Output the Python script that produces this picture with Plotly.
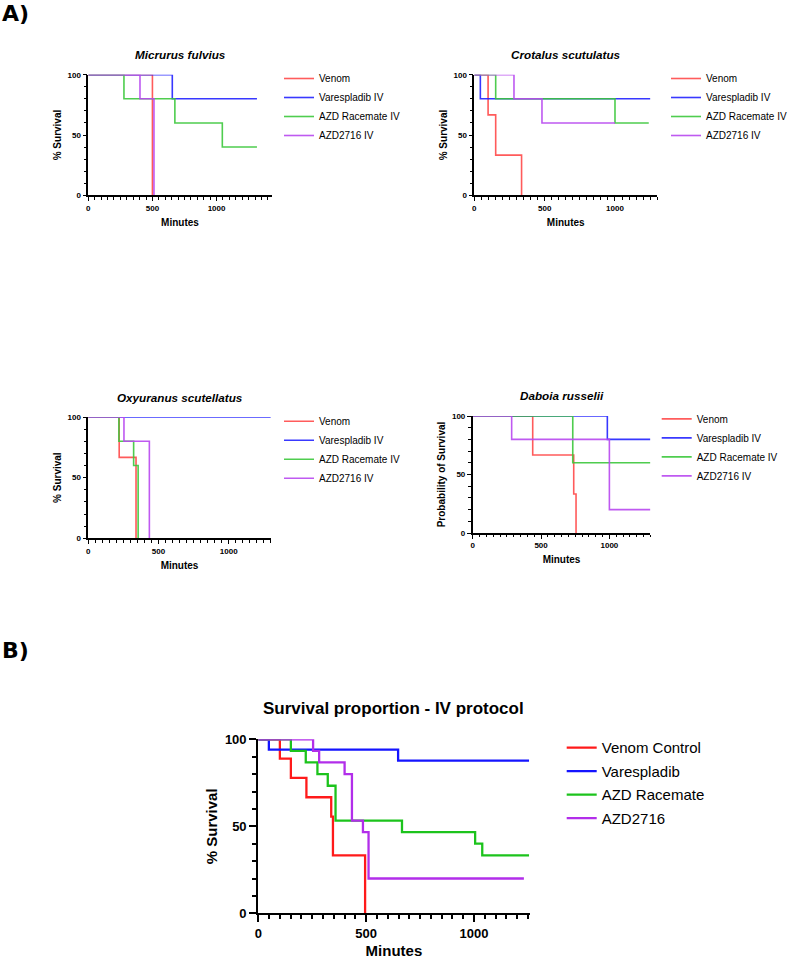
import plotly.graph_objects as go

# ---------------- data ----------------
groups_A = ["Venom", "Varespladib IV", "AZD Racemate IV", "AZD2716 IV"]
groups_B = ["Venom Control", "Varespladib", "AZD Racemate", "AZD2716"]

# Micrurus fulvius
mf_venom_t = [0, 500];                 mf_venom_s = [100, 0]
mf_vares_t = [0, 655, 1315];           mf_vares_s = [100, 80, 80]
mf_race_t = [0, 278, 675, 1045, 1315]; mf_race_s = [100, 80, 60, 40, 40]
mf_azd_t = [0, 403, 512];              mf_azd_s = [100, 80, 0]

# Crotalus scutulatus
cs_venom_t = [0, 98, 152, 336];        cs_venom_s = [100, 66.7, 33.3, 0]
cs_vares_t = [0, 43, 1250];            cs_vares_s = [100, 80, 80]
cs_race_t = [0, 152, 1000, 1240];      cs_race_s = [100, 80, 60, 60]
cs_azd_t = [0, 282, 481, 1000];        cs_azd_s = [100, 80, 60, 60]

# Oxyuranus scutellatus
os_venom_t = [0, 220, 340];            os_venom_s = [100, 66.7, 0]
os_vares_t = [0, 1300];                os_vares_s = [100, 100]
os_race_t = [0, 218, 323, 355];        os_race_s = [100, 80, 60, 0]
os_azd_t = [0, 254, 435];              os_azd_s = [100, 80, 0]

# Daboia russelii
dr_venom_t = [0, 439, 739, 756];       dr_venom_s = [100, 66.7, 33.3, 0]
dr_vares_t = [0, 985, 1300];           dr_vares_s = [100, 80, 80]
dr_race_t = [0, 732, 1300];            dr_race_s = [100, 60, 60]
dr_azd_t = [0, 285, 1000, 1300];       dr_azd_s = [100, 80, 20, 20]

# Pooled IV protocol
iv_venom_t = [0, 100, 151, 223, 338, 346, 495]
iv_venom_s = [100, 88.9, 77.8, 66.7, 55.6, 33.3, 0]
iv_vares_t = [0, 49, 648, 1255]
iv_vares_s = [100, 94.1, 87.8, 87.8]
iv_race_t = [0, 151, 220, 274, 322, 358, 666, 1005, 1038, 1255]
iv_race_s = [100, 93.3, 86.7, 80, 73.3, 53.3, 46.7, 40, 33.3, 33.3]
iv_azd_t = [0, 254, 282, 400, 434, 485, 511, 1231]
iv_azd_s = [100, 93.3, 86.7, 80, 53.3, 46.7, 20, 20]

x_ticks = [0, 500, 1000]
y_ticks = [0, 50, 100]

# ---------------- layout helpers ----------------
W, H = 790, 959
FONT = "Liberation Sans, Arial, sans-serif"
HEAVY = "DejaVu Sans, Liberation Sans, sans-serif"
def fx(p): return p / W
def fy(p): return 1 - p / H

colors_A = ["#FF4A4A", "#2424FF", "#3CC83C", "#B848F0"]
colors_B = ["#FF1A1A", "#1414FF", "#1CC31C", "#B22EEA"]

panels = [
    dict(title="Micrurus fulvius", ytitle="% Survival", xmax=1430,
         box=(88.3, 271.7, 74.7, 195.3), leg=(279, 64),
         series=[(mf_venom_t, mf_venom_s), (mf_vares_t, mf_vares_s),
                 (mf_race_t, mf_race_s), (mf_azd_t, mf_azd_s)]),
    dict(title="Crotalus scutulatus", ytitle="% Survival", xmax=1300,
         box=(474.3, 657.2, 74.7, 195.3), leg=(666, 64),
         series=[(cs_venom_t, cs_venom_s), (cs_vares_t, cs_vares_s),
                 (cs_race_t, cs_race_s), (cs_azd_t, cs_azd_s)]),
    dict(title="Oxyuranus scutellatus", ytitle="% Survival", xmax=1300,
         box=(88.3, 270.8, 417, 538.3), leg=(279, 406.8),
         series=[(os_venom_t, os_venom_s), (os_vares_t, os_vares_s),
                 (os_race_t, os_race_s), (os_azd_t, os_azd_s)]),
    dict(title="Daboia russelii", ytitle="Probability of Survival", xmax=1300,
         box=(472.7, 650.4, 416, 533), leg=(656.7, 404.4),
         series=[(dr_venom_t, dr_venom_s), (dr_vares_t, dr_vares_s),
                 (dr_race_t, dr_race_s), (dr_azd_t, dr_azd_s)]),
]

fig = go.Figure()
annotations = []
layout = {}

for i, p in enumerate(panels):
    n = i + 1
    xa = "x" if n == 1 else f"x{n}"
    ya = "y" if n == 1 else f"y{n}"
    lg = "legend" if n == 1 else f"legend{n}"
    x0, x1, yt, yb = p["box"]
    for j, (t, s) in enumerate(p["series"]):
        fig.add_trace(go.Scatter(
            x=t, y=s, mode="lines", line=dict(shape="hv", color=colors_A[j], width=1.6),
            name=groups_A[j], xaxis=xa, yaxis=ya, legend=lg, cliponaxis=False,
            opacity=0.9, hoverinfo="skip"))
    xkey = "xaxis" if n == 1 else f"xaxis{n}"
    ykey = "yaxis" if n == 1 else f"yaxis{n}"
    layout[xkey] = dict(
        domain=[fx(x0), fx(x1)], range=[0, p["xmax"]], anchor=ya, automargin=False,
        tickvals=x_ticks, ticks="outside", ticklen=4, tickwidth=1.2, tickcolor="black",
        minor=dict(dtick=50, tick0=0, ticks="outside", ticklen=2.5, tickwidth=1, tickcolor="black"),
        showline=True, linecolor="black", linewidth=1.6, showgrid=False, zeroline=False,
        tickfont=dict(family=FONT, size=8, color="black", weight="bold"),
        title=dict(text="Minutes", standoff=7,
                   font=dict(family=FONT, size=10, color="black", weight="bold")),
    )
    layout[ykey] = dict(
        domain=[fy(yb), fy(yt)], range=[0, 100], anchor=xa, automargin=False,
        tickvals=y_ticks, ticks="outside", ticklen=4, tickwidth=1.2, tickcolor="black",
        minor=dict(dtick=10, tick0=0, ticks="outside", ticklen=2.5, tickwidth=1, tickcolor="black"),
        showline=True, linecolor="black", linewidth=1.6, showgrid=False, zeroline=False,
        tickfont=dict(family=FONT, size=8, color="black", weight="bold"),
        title=dict(text=p["ytitle"], standoff=4,
                   font=dict(family=FONT, size=10, color="black", weight="bold")),
    )
    layout[lg] = dict(
        x=fx(p["leg"][0]), y=fy(p["leg"][1]), xanchor="left", yanchor="top",
        bgcolor="rgba(0,0,0,0)", font=dict(family=FONT, size=10, color="black"),
        tracegroupgap=0)
    annotations.append(dict(
        text=p["title"], xref="paper", yref="paper",
        x=fx((x0 + x1) / 2), y=fy(yt - 20), xanchor="center", yanchor="middle",
        showarrow=False,
        font=dict(family=FONT, size=11.7, color="black", weight="bold", style="italic")))

# Panel B
series_B = [(iv_venom_t, iv_venom_s), (iv_vares_t, iv_vares_s),
            (iv_race_t, iv_race_s), (iv_azd_t, iv_azd_s)]
bx0, bx1, byt, byb = 258.3, 529.5, 739.3, 913.3
for j, (t, s) in enumerate(series_B):
    fig.add_trace(go.Scatter(
        x=t, y=s, mode="lines", line=dict(shape="hv", color=colors_B[j], width=2.3),
        name=groups_B[j], xaxis="x5", yaxis="y5", legend="legend5",
        legendgroup=f"b{j}", cliponaxis=False, hoverinfo="skip"))
layout["xaxis5"] = dict(
    domain=[fx(bx0), fx(bx1)], range=[0, 1257], anchor="y5", automargin=False,
    tickvals=x_ticks, ticks="outside", ticklen=7, tickwidth=2, tickcolor="black",
    minor=dict(dtick=50, tick0=0, ticks="outside", ticklen=4, tickwidth=1.5, tickcolor="black"),
    showline=True, linecolor="black", linewidth=2.2, showgrid=False, zeroline=False,
    tickfont=dict(family=FONT, size=13, color="black", weight="bold"),
    title=dict(text="Minutes", standoff=6,
               font=dict(family=FONT, size=15, color="black", weight="bold")),
)
layout["yaxis5"] = dict(
    domain=[fy(byb), fy(byt)], range=[0, 100], anchor="x5", automargin=False,
    tickvals=y_ticks, ticks="outside", ticklen=7, tickwidth=2, tickcolor="black",
    minor=dict(dtick=10, tick0=0, ticks="outside", ticklen=4, tickwidth=1.5, tickcolor="black"),
    showline=True, linecolor="black", linewidth=2.2, showgrid=False, zeroline=False,
    tickfont=dict(family=FONT, size=13, color="black", weight="bold"),
    title=dict(text="% Survival", standoff=4,
               font=dict(family=FONT, size=15, color="black", weight="bold")),
)
layout["legend5"] = dict(
    x=fx(561.7), y=fy(731.3), xanchor="left", yanchor="top",
    bgcolor="rgba(0,0,0,0)", font=dict(family=FONT, size=15, color="black"),
    tracegroupgap=1)
annotations.append(dict(
    text="Survival proportion - IV protocol", xref="paper", yref="paper",
    x=fx((bx0 + bx1) / 2), y=fy(708), xanchor="center", yanchor="middle",
    showarrow=False, font=dict(family=FONT, size=17, color="black", weight="bold")))

# Section labels
for lab, yy in [("A)", 14), ("B)", 650)]:
    annotations.append(dict(
        text=lab, xref="paper", yref="paper", x=fx(0), y=fy(yy),
        xanchor="left", yanchor="middle", showarrow=False,
        font=dict(family=HEAVY, size=22, color="black", weight="bold")))

fig.update_layout(
    width=W, height=H, margin=dict(l=0, r=0, t=0, b=0, autoexpand=False),
    paper_bgcolor="white", plot_bgcolor="white",
    annotations=annotations, **layout)

fig.write_html("out.html")
